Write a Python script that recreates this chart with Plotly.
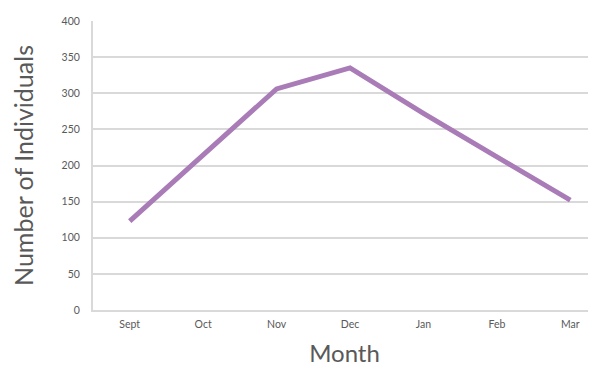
import plotly.graph_objects as go

months = ["Sept", "Oct", "Nov", "Dec", "Jan", "Feb", "Mar"]
individuals = [123, 214, 306, 335, 272, 212, 152]
y_ticks = [0, 50, 100, 150, 200, 250, 300, 350, 400]

fig = go.Figure(go.Scatter(
    x=months, y=individuals, mode="lines",
    line=dict(color="#a97cb8", width=5),
    hoverinfo="skip",
))

font_family = "Lato, 'Noto Sans', sans-serif"
fig.update_layout(
    width=588, height=359,
    margin=dict(l=85, r=0, t=13, b=57),
    paper_bgcolor="white", plot_bgcolor="white",
    showlegend=False,
    font=dict(family=font_family, color="#595959"),
)
fig.update_xaxes(
    type="category", range=[-0.5, 6.35], automargin=False,
    showgrid=False, showline=True, linecolor="#d9d9d9", linewidth=2,
    ticks="", ticklabelstandoff=3, tickfont=dict(size=10.5, color="#595959"),
    title=dict(text="Month", font=dict(size=24, color="#595959"), standoff=20),
)
fig.update_yaxes(
    range=[0, 400], tickvals=y_ticks, automargin=False,
    showgrid=True, gridcolor="#d9d9d9", gridwidth=1.5,
    showline=True, linecolor="#d9d9d9", linewidth=2,
    zeroline=False, ticks="", ticklabelstandoff=9,
    tickfont=dict(size=10.5, color="#595959"),
    title=dict(text="Number of Individuals", font=dict(size=25, color="#595959"), standoff=23),
)

fig.write_html("out.html")
